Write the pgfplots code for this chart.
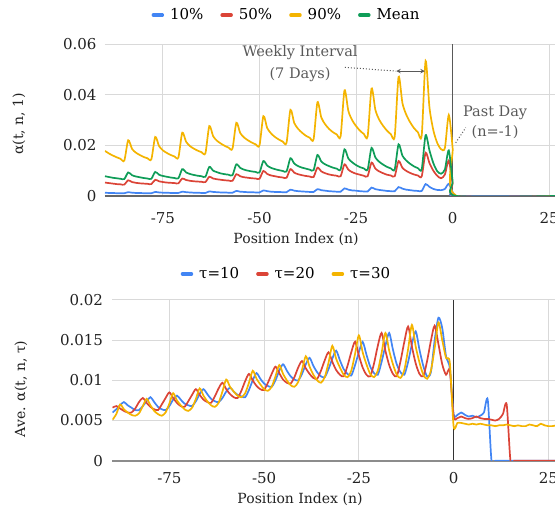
\documentclass[border=0pt]{standalone}
\usepackage{fontspec}
\setmainfont{DejaVu Serif}
\usepackage{pgfplots}
\pgfplotsset{compat=1.18}
\usepackage{pgfplotstable}
\definecolor{gblue}{HTML}{4285F4}
\definecolor{gred}{HTML}{DB4437}
\definecolor{gyellow}{HTML}{F4B400}
\definecolor{ggreen}{HTML}{0F9D58}
\definecolor{gridc}{HTML}{D9D9D9}
\definecolor{anno}{HTML}{595959}
\definecolor{txt}{HTML}{222222}

\pgfplotstableread{
n p10 p50 p90 mean
-90 .0013 .0053 .0178 .0078
-89 .0012 .0051 .0168 .0075
-88 .0012 .0049 .0160 .0072
-87 .0011 .0047 .0153 .0070
-86 .0011 .0046 .0147 .0068
-85 .0011 .0045 .0140 .0067
-84 .0015 .0062 .0220 .0093
-83 .0013 .0055 .0186 .0082
-82 .0012 .0052 .0171 .0077
-81 .0012 .0050 .0162 .0074
-80 .0011 .0049 .0154 .0071
-79 .0011 .0048 .0149 .0069
-78 .0011 .0047 .0145 .0068
-77 .0016 .0064 .0233 .0095
-76 .0014 .0058 .0197 .0084
-75 .0013 .0055 .0180 .0079
-74 .0013 .0053 .0170 .0076
-73 .0012 .0052 .0162 .0073
-72 .0012 .0051 .0156 .0071
-71 .0012 .0050 .0152 .0070
-70 .0017 .0069 .0250 .0106
-69 .0015 .0063 .0214 .0093
-68 .0014 .0060 .0197 .0087
-67 .0013 .0058 .0187 .0083
-66 .0013 .0057 .0179 .0080
-65 .0012 .0056 .0173 .0078
-64 .0012 .0055 .0169 .0076
-63 .0018 .0076 .0276 .0115
-62 .0016 .0069 .0236 .0100
-61 .0015 .0066 .0218 .0094
-60 .0014 .0064 .0207 .0089
-59 .0014 .0062 .0198 .0086
-58 .0013 .0061 .0191 .0084
-57 .0013 .0060 .0187 .0082
-56 .0020 .0086 .0289 .0125
-55 .0017 .0078 .0249 .0111
-54 .0016 .0074 .0231 .0104
-53 .0015 .0072 .0220 .0100
-52 .0015 .0070 .0211 .0097
-51 .0014 .0069 .0204 .0095
-50 .0014 .0068 .0200 .0093
-49 .0022 .0099 .0315 .0138
-48 .0019 .0087 .0268 .0120
-47 .0017 .0081 .0247 .0111
-46 .0016 .0078 .0233 .0106
-45 .0016 .0075 .0223 .0102
-44 .0015 .0073 .0215 .0099
-43 .0015 .0072 .0210 .0097
-42 .0025 .0106 .0340 .0149
-41 .0021 .0092 .0288 .0128
-40 .0019 .0086 .0265 .0118
-39 .0018 .0082 .0250 .0112
-38 .0017 .0079 .0238 .0108
-37 .0016 .0077 .0230 .0104
-36 .0016 .0075 .0224 .0102
-35 .0027 .0112 .0370 .0162
-34 .0023 .0097 .0310 .0136
-33 .0021 .0090 .0283 .0125
-32 .0019 .0085 .0265 .0118
-31 .0018 .0082 .0252 .0112
-30 .0017 .0080 .0243 .0108
-29 .0017 .0078 .0236 .0105
-28 .0030 .0125 .0417 .0184
-27 .0025 .0104 .0336 .0148
-26 .0022 .0094 .0299 .0133
-25 .0021 .0088 .0276 .0122
-24 .0019 .0084 .0258 .0114
-23 .0018 .0080 .0245 .0109
-22 .0018 .0078 .0236 .0105
-21 .0033 .0132 .0424 .0190
-20 .0027 .0108 .0340 .0152
-19 .0024 .0097 .0301 .0135
-18 .0022 .0090 .0277 .0124
-17 .0020 .0084 .0258 .0115
-16 .0019 .0081 .0244 .0109
-15 .0019 .0078 .0235 .0105
-14 .0035 .0138 .0470 .0204
-13 .0029 .0111 .0367 .0159
-12 .0025 .0099 .0321 .0140
-11 .0023 .0091 .0291 .0127
-10 .0021 .0085 .0268 .0117
-9 .0020 .0081 .0252 .0110
-8 .0020 .0078 .0240 .0106
-7 .0047 .0171 .0533 .0240
-6 .0036 .0130 .0350 .0180
-5 .0028 .0100 .0260 .0130
-4 .0024 .0080 .0210 .0098
-3 .0023 .0070 .0185 .0088
-2 .0028 .0085 .0190 .0105
-1 .0048 .0140 .0320 .0180
0 .0015 .0050 .0190 .0060
1 0 0 0 0
26.5 0 0 0 0
}\toptable

\pgfplotstableread{
n t10 t20 t30
-90 .0060 .0066 .0051
-89 .0064 .0068 .0058
-88 .0069 .0065 .0070
-87 .0073 .0062 .0064
-86 .0069 .0060 .0060
-85 .0066 .0060 .0057
-84 .0063 .0065 .0056
-83 .0063 .0073 .0059
-82 .0068 .0078 .0068
-81 .0074 .0072 .0077
-80 .0079 .0067 .0069
-79 .0073 .0064 .0062
-78 .0067 .0063 .0058
-77 .0064 .0070 .0056
-76 .0063 .0078 .0060
-75 .0068 .0085 .0071
-74 .0076 .0078 .0084
-73 .0081 .0072 .0075
-72 .0076 .0068 .0069
-71 .0071 .0067 .0064
-70 .0069 .0074 .0062
-69 .0068 .0082 .0066
-68 .0074 .0089 .0077
-67 .0083 .0082 .0090
-66 .0089 .0076 .0081
-65 .0083 .0073 .0074
-64 .0077 .0072 .0069
-63 .0074 .0080 .0067
-62 .0073 .0090 .0072
-61 .0078 .0097 .0086
-60 .0086 .0089 .0101
-59 .0091 .0083 .0092
-58 .0086 .0079 .0086
-57 .0082 .0078 .0081
-56 .0080 .0087 .0079
-55 .0079 .0099 .0084
-54 .0088 .0108 .0097
-53 .0100 .0100 .0112
-52 .0109 .0093 .0102
-51 .0102 .0089 .0095
-50 .0096 .0088 .0089
-49 .0093 .0097 .0087
-48 .0092 .0108 .0092
-47 .0100 .0117 .0105
-46 .0112 .0109 .0119
-45 .0120 .0101 .0108
-44 .0112 .0097 .0100
-43 .0105 .0096 .0094
-42 .0101 .0104 .0092
-41 .0100 .0116 .0098
-40 .0108 .0124 .0113
-39 .0120 .0115 .0130
-38 .0128 .0108 .0117
-37 .0118 .0103 .0107
-36 .0110 .0102 .0100
-35 .0105 .0112 .0097
-34 .0104 .0125 .0104
-33 .0114 .0135 .0122
-32 .0127 .0123 .0143
-31 .0137 .0113 .0127
-30 .0125 .0107 .0116
-29 .0114 .0105 .0107
-28 .0108 .0118 .0104
-27 .0106 .0135 .0112
-26 .0119 .0148 .0133
-25 .0135 .0131 .0156
-24 .0148 .0116 .0135
-23 .0132 .0107 .0120
-22 .0117 .0105 .0108
-21 .0109 .0121 .0104
-20 .0107 .0143 .0112
-19 .0123 .0159 .0134
-18 .0143 .0137 .0159
-17 .0159 .0119 .0137
-16 .0138 .0108 .0120
-15 .0120 .0105 .0107
-14 .0110 .0124 .0103
-13 .0107 .0148 .0113
-12 .0123 .0167 .0139
-11 .0145 .0142 .0169
-10 .0161 .0121 .0142
-9 .0138 .0108 .0122
-8 .0118 .0105 .0107
-7 .0105 .0124 .0102
-6 .0110 .0149 .0112
-5 .0150 .0168 .0140
-4 .0178 .0145 .0172
-3 .0165 .0120 .0150
-2 .0130 .0107 .0128
-1 .0115 .0112 .0122
0 .0058 .0055 .0043
1 .0057 .0053 .0047
2 .0060 .0055 .0047
3 .0057 .0053 .0046
4 .0055 .0052 .0045
5 .0056 .0053 .0046
6 .0054 .0055 .0045
7 .0056 .0053 .0046
8 .0060 .0052 .0045
9 .0076 .0052 .0044
10 0 .0051 .0044
11 0 .0050 .0043
12 0 .0052 .0044
13 0 .0058 .0044
14 0 .0070 .0045
15 0 0 .0044
16 0 0 .0043
17 0 0 .0044
18 0 0 .0043
19 0 0 .0043
20 0 0 .0045
21 0 0 .0044
22 0 0 .0043
23 0 0 .0046
24 0 0 .0044
25 0 0 .0043
26 0 0 .0043
27 0 0 .0044
}\bottable

\pgfplotsset{
  gstyle/.style={
    scale only axis,
    axis line style={draw=none},
    tick style={draw=none},
    grid=major,
    grid style={gridc, line width=1pt},
    xmin=-90,
    xtick={-75,-50,-25,0,25},
    xticklabels={-75,-50,-25,0,25},
    scaled y ticks=false,
    font=\fontsize{15}{17}\selectfont,
    tick label style={txt},
    clip=true,
    legend columns=-1,
    legend style={draw=none, fill=none, font=\fontsize{15}{17}\selectfont},
    legend image code/.code={\draw[#1, line width=3.5pt, line cap=round] (2pt,0pt) -- (11pt,0pt);},
    every axis plot/.append style={line width=1.7pt, smooth, tension=0.45},
  }
}
\newcommand{\legent}[1]{\kern4pt#1\kern15pt\relax}

\begin{document}
\begin{tikzpicture}[x=1pt,y=1pt]
% top chart
\begin{axis}[gstyle,
  at={(105pt,316pt)}, anchor=south west,
  width=450pt, height=152pt,
  xmax=26.5, ymin=0, ymax=0.06,
  ytick={0,0.02,0.04,0.06},
  yticklabels={0,0.02,0.04,0.06},
  yticklabel style={xshift=-5pt},
  xticklabel style={yshift=-13pt},
  extra x ticks={0}, extra x tick labels={},
  extra x tick style={grid style={black!65, line width=1.4pt}},
  extra y ticks={0}, extra y tick labels={},
  extra y tick style={grid style={black!60, line width=1.4pt}},
  legend style={at={(axis description cs:0.42,1.19)}, anchor=center},
]
\addplot[gblue] table[x=n,y=p10] {\toptable};
\addlegendentry{\legent{10\%}}
\addplot[gred] table[x=n,y=p50] {\toptable};
\addlegendentry{\legent{50\%}}
\addplot[gyellow] table[x=n,y=p90] {\toptable};
\addlegendentry{\legent{90\%}}
\addplot[ggreen] table[x=n,y=mean] {\toptable};
\addlegendentry{\legent{Mean}}
\node[anno, align=center, font=\fontsize{14.5}{22}\selectfont] at (axis cs:-39.5,0.0522) {Weekly Interval\\(7 Days)};
\draw[anno, dotted, line width=1pt] (axis cs:-27.9,0.0508) -- (axis cs:-14.7,0.0493);
\draw[anno, <->, >=stealth, line width=1pt] (axis cs:-14.6,0.0493) -- (axis cs:-7.2,0.0493);
\node[anno, align=center, font=\fontsize{14.5}{20}\selectfont] at (axis cs:11,0.0292) {Past Day\\(n=-1)};
\draw[anno, dotted, line width=1pt] (axis cs:0.8,0.021) -- (axis cs:3.4,0.027);
\end{axis}
% bottom chart
\begin{axis}[gstyle,
  at={(112.5pt,51.3pt)}, anchor=south west,
  width=442.5pt, height=160.7pt,
  xmax=26.75, ymin=0, ymax=0.02,
  ytick={0,0.005,0.01,0.015,0.02},
  yticklabels={0,0.005,0.01,0.015,0.02},
  yticklabel style={xshift=-6pt},
  xticklabel style={yshift=-8pt},
  extra x ticks={0}, extra x tick labels={},
  extra x tick style={grid style={black!80, line width=0.9pt}},
  extra y ticks={0}, extra y tick labels={},
  extra y tick style={grid style={black!45, line width=1.8pt}},
  legend style={at={(axis description cs:0.41,1.162)}, anchor=center},
]
\addplot[gblue] table[x=n,y=t10] {\bottable};
\addlegendentry{\legent{τ=10}}
\addplot[gred] table[x=n,y=t20] {\bottable};
\addlegendentry{\legent{τ=20}}
\addplot[gyellow] table[x=n,y=t30] {\bottable};
\addlegendentry{\legent{τ=30}}
\end{axis}
\node[rotate=90, txt, font=\fontsize{14}{16}\selectfont] at (19pt,388pt) {α(t, n, 1)};
\node[txt, font=\fontsize{14}{16}\selectfont] at (296pt,273pt) {Position Index (n)};
\node[rotate=90, txt, font=\fontsize{14}{16}\selectfont] at (21pt,123pt) {Ave. α(t, n, τ)};
\node[txt, font=\fontsize{14}{16}\selectfont] at (300pt,13pt) {Position Index (n)};
\pgfresetboundingbox
\useasboundingbox (0pt,0pt) rectangle (555pt,512pt);
\end{tikzpicture}
\end{document}
